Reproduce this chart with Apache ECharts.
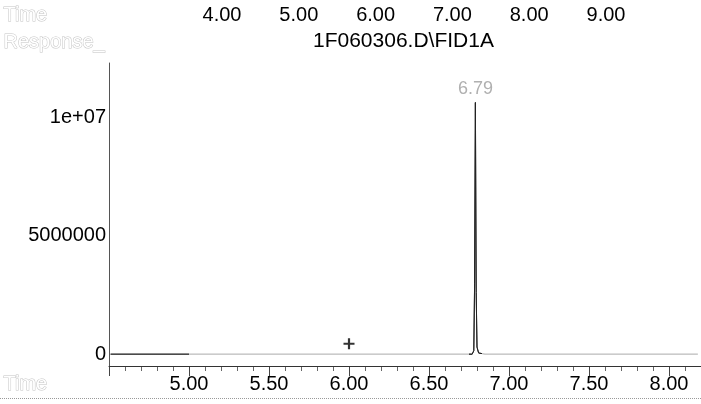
<!DOCTYPE html>
<html>
<head>
<meta charset="utf-8">
<script src="https://cdn.jsdelivr.net/npm/echarts@6/dist/echarts.min.js"></script>
<style>html,body{margin:0;padding:0;background:#fff}#c{width:701px;height:404px}</style>
</head>
<body>
<div id="c"></div>
<script>
// ---- data ----
var times = [4.51, 4.80, 5.00, 5.30, 5.50, 5.80, 6.00, 6.30, 6.50, 6.70, 6.770, 6.780, 6.785, 6.790, 6.795, 6.800, 6.810, 6.850, 7.00, 7.30, 7.50, 7.80, 8.00, 8.18];
var responses = [0, 0, 0, 0, 0, 0, 0, 0, 0, 0, 0, 150000, 3000000, 10630000, 2600000, 300000, 50000, 0, 0, 0, 0, 0, 0, 0];
var peakTime = 6.79;
var peakLabel = "6.79";
var markerPoint = [[6.00, 440000]];
var yTickLabels = {"0": "0", "5000000": "5000000", "10000000": "1e+07"};
var topTimes = [4, 9];
var fileTitle = "1F060306.D\\FID1A";

var X_MIN = 4.5, X_MAX = 8.2, Y_MIN = -500000, Y_MAX = 12300000;
var FONT = "'Liberation Sans', Arial, sans-serif";
var seriesData = times.map(function (t, i) {
  var item = { value: [t, responses[i]] };
  if (t === peakTime) {
    item.label = { show: true, position: 'top', distance: 5, formatter: peakLabel,
      color: '#b0b0b0', fontSize: 18, fontFamily: FONT };
  }
  return item;
});

var chart = echarts.init(document.getElementById('c'), null, { renderer: 'canvas' });
chart.setOption({
  animation: false,
  backgroundColor: '#fff',
  grid: [
    { left: 109, right: 0, top: 63, bottom: 38, containLabel: false },
    { left: 222, width: 384, top: 63, height: 1 }
  ],
  visualMap: {
    show: false, type: 'piecewise', dimension: 0, seriesIndex: 0,
    pieces: [
      { gte: 4.4, lt: 5.0, color: '#333' },
      { gte: 5.0, lt: 6.75, color: '#c4c4c4' },
      { gte: 6.75, lt: 6.83, color: '#222' },
      { gte: 6.83, lte: 8.3, color: '#c4c4c4' }
    ]
  },
  xAxis: [
    {
      gridIndex: 0, type: 'value', min: X_MIN, max: X_MAX, interval: 0.5,
      axisLine: { show: true, onZero: false, lineStyle: { color: '#333', width: 1 } },
      axisTick: { show: true, length: 10, lineStyle: { color: '#444' } },
      minorTick: { show: true, splitNumber: 5, length: 5, lineStyle: { color: '#666' } },
      splitLine: { show: false },
      axisLabel: { showMinLabel: false, showMaxLabel: false, margin: 8, fontSize: 20, color: '#000', fontFamily: FONT,
        formatter: function (v) { return v.toFixed(2); } }
    },
    {
      gridIndex: 1, type: 'value', position: 'top', min: topTimes[0], max: topTimes[1], interval: 1,
      offset: 30,
      axisLine: { show: false }, axisTick: { show: false }, splitLine: { show: false },
      axisLabel: { margin: 8, fontSize: 20, color: '#000', fontFamily: FONT,
        formatter: function (v) { return v.toFixed(2); } }
    }
  ],
  yAxis: [
    {
      gridIndex: 0, type: 'value', min: Y_MIN, max: Y_MAX, interval: 500000,
      axisLine: { show: true, lineStyle: { color: '#555', width: 1 } },
      axisTick: { show: false }, splitLine: { show: false },
      axisLabel: { interval: 0, margin: 3, fontSize: 20, color: '#000', fontFamily: FONT,
        formatter: function (v) { var k = String(Math.round(v)); return yTickLabels[k] || ''; } }
    },
    { gridIndex: 1, type: 'value', show: false }
  ],
  series: [
    {
      type: 'line', xAxisIndex: 0, yAxisIndex: 0, data: seriesData,
      showSymbol: true, symbol: 'circle', symbolSize: 0,
      lineStyle: { width: 1 }, silent: true
    },
    {
      type: 'scatter', xAxisIndex: 0, yAxisIndex: 0, data: markerPoint,
      symbol: 'path://M4,0H6V4H10V6H6V10H4V6H0V4H4Z', symbolSize: 11,
      itemStyle: { color: '#000' }, silent: true
    }
  ]
});

// axis baseline located through the chart's own scales
var pA = chart.convertToPixel({ gridIndex: 0 }, [X_MIN, Y_MIN]);
var pB = chart.convertToPixel({ gridIndex: 0 }, [X_MAX, Y_MIN]);
var yLine = Math.round(pA[1]) + 0.5;
chart.setOption({
  graphic: [
    { type: 'line', z: 10, shape: { x1: pA[0], y1: yLine, x2: pB[0], y2: yLine }, style: { stroke: '#333', lineWidth: 1 } },
    { type: 'text', left: 3, top: 5, style: { text: 'Time', fontSize: 20, fontFamily: FONT, fill: '#fff', stroke: '#c4c4c4', lineWidth: 1 } },
    { type: 'text', left: 3, top: 32, style: { text: 'Response_', fontSize: 20, fontFamily: FONT, fill: '#fff', stroke: '#c4c4c4', lineWidth: 1 } },
    { type: 'text', left: 3, top: 374, style: { text: 'Time', fontSize: 20, fontFamily: FONT, fill: '#fff', stroke: '#c4c4c4', lineWidth: 1 } },
    { type: 'text', left: 313, top: 31, style: { text: fileTitle, fontSize: 21, fontFamily: FONT, fill: '#000' } },
    { type: 'line', shape: { x1: 0, y1: 398.5, x2: 701, y2: 398.5 }, style: { stroke: '#999', lineWidth: 1, lineDash: [1, 1] } }
  ]
});
</script>
</body>
</html>
